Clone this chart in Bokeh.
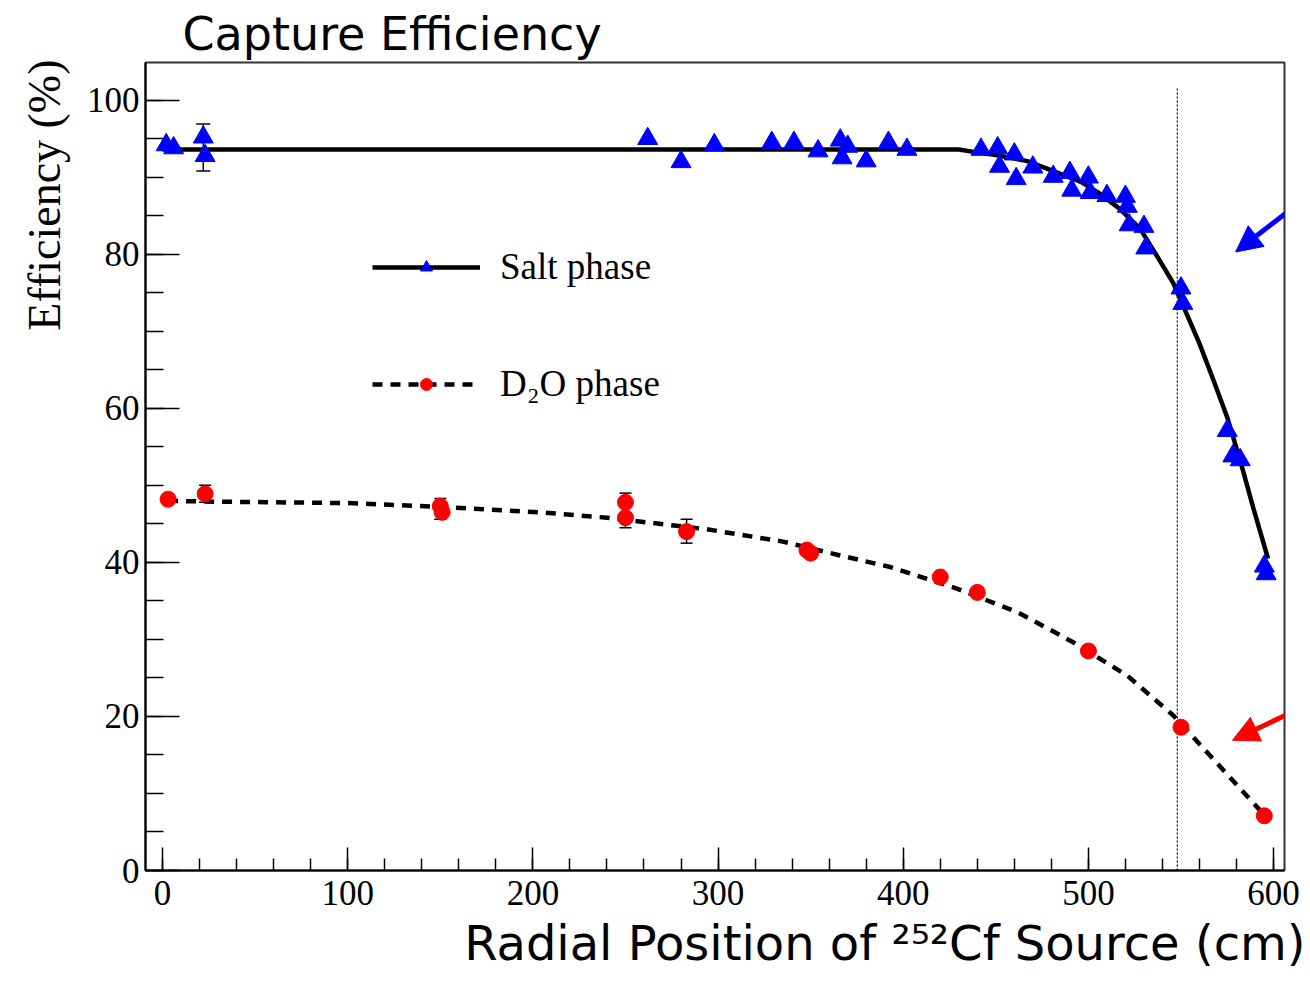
from bokeh.plotting import figure
from bokeh.models import (Range1d, Arrow, NormalHead, Legend, LegendItem, Title,
                          Whisker, TeeHead, ColumnDataSource, FixedTicker)
from bokeh.embed import file_html
from bokeh.resources import INLINE

# ---------------- data ----------------
salt_r = [2, 6, 22, 23, 262, 280, 298, 329, 341, 354, 366, 367, 370, 380, 392, 402,
          442, 451, 452, 460, 461, 470, 481, 490, 491, 500, 501, 510, 520, 521, 522,
          530, 531, 550, 551, 575, 578, 582, 595, 596]
salt_eff = [94.2, 93.8, 95.2, 92.8, 95.0, 92.0, 94.2, 94.5, 94.5, 93.4, 94.8, 92.5, 94.0,
            92.1, 94.5, 93.6, 93.6, 93.8, 91.4, 93.0, 89.8, 91.3, 90.1, 90.6, 88.3, 90.0,
            88.0, 87.6, 87.5, 86.2, 83.8, 83.6, 80.8, 75.6, 73.6, 57.1, 53.8, 53.3, 39.5, 38.5]

salt_fit_r = [0, 430, 438, 450, 467, 479, 496, 506, 517, 528, 537, 546, 553, 560, 567,
              575, 582, 589, 597]
salt_fit_eff = [93.6, 93.6, 93.3, 92.9, 92.1, 91.0, 89.4, 87.9, 85.9, 83.3, 79.8, 76.2,
                72.3, 68.4, 64.0, 58.8, 53.2, 47.1, 40.5]

salt_err_r = [22]
salt_err_lo = [90.8]
salt_err_hi = [96.9]

d2o_r = [3, 23, 150, 151, 250, 250, 283, 348, 350, 420, 440, 500, 550, 595]
d2o_eff = [48.2, 48.9, 47.3, 46.5, 47.8, 45.8, 44.0, 41.6, 41.2, 38.1, 36.1, 28.5, 18.6, 7.1]

d2o_fit_r = [3, 23, 100, 150, 204, 240, 294, 335, 366, 393, 429, 462, 492, 521, 546, 573, 595]
d2o_fit_eff = [48.0, 47.9, 47.7, 47.2, 46.5, 45.8, 44.3, 42.7, 40.9, 39.4, 36.6, 33.5,
               29.6, 25.3, 20.1, 13.0, 7.2]

d2o_err_r = [23, 150, 250, 283]
d2o_err_lo = [47.8, 45.6, 44.5, 42.5]
d2o_err_hi = [50.0, 48.3, 49.0, 45.6]

x_major = [0, 100, 200, 300, 400, 500, 600]
y_major = [0, 20, 40, 60, 80, 100]

boundary_r = 548
boundary_top = 101.7

title_text = "Capture Efficiency"
xlabel_text = "Radial Position of \u00b2\u2075\u00b2Cf Source (cm)"
ylabel_text = "Efficiency (%)"
salt_label = "Salt phase"
d2o_label = "D\u2082O phase"

# ---------------- figure ----------------
p = figure(width=1310, height=989, x_range=Range1d(-9.2, 605.9), y_range=Range1d(0, 104.9),
           output_backend="svg", toolbar_location=None,
           min_border_left=145, min_border_right=26, min_border_top=62, min_border_bottom=119)
p.background_fill_color = "white"
p.border_fill_color = "white"
p.outline_line_color = "#333333"
p.outline_line_width = 2
p.xgrid.visible = False
p.ygrid.visible = False

sans = "DejaVu Sans"
serif = "Liberation Serif"

# title
p.title.text = title_text
p.title.text_font = sans
p.title.text_font_size = "46px"
p.title.text_font_style = "normal"
p.title.text_color = "black"
p.title.align = "left"
p.title.offset = 37
p.title.standoff = 4

for ax in (p.xaxis[0], p.yaxis[0]):
    ax.axis_line_color = "black"
    ax.axis_line_width = 2
    ax.major_tick_out = 0
    ax.minor_tick_out = 0
    ax.major_tick_line_color = "black"
    ax.minor_tick_line_color = "black"
    ax.major_tick_line_width = 1.5
    ax.minor_tick_line_width = 1.5
    ax.major_label_text_font = serif
    ax.major_label_text_font_size = "35px"
    ax.major_label_text_color = "black"

p.xaxis[0].ticker = FixedTicker(ticks=x_major, minor_ticks=list(range(0, 601, 20)))
p.yaxis[0].ticker = FixedTicker(ticks=y_major, minor_ticks=list(range(0, 101, 5)))
p.xaxis[0].major_tick_in = 23
p.xaxis[0].minor_tick_in = 12
p.yaxis[0].major_tick_in = 34
p.yaxis[0].minor_tick_in = 18
p.xaxis[0].major_label_standoff = 10
p.yaxis[0].major_label_standoff = 6

# axis titles as side-panel titles (right / top aligned like ROOT)
p.add_layout(Title(text=xlabel_text, text_font=sans, text_font_size="48px",
                   text_font_style="normal", text_color="black",
                   align="right", offset=-21, standoff=10), "below")
p.add_layout(Title(text=ylabel_text, text_font=serif, text_font_size="46px",
                   text_font_style="normal", text_color="black",
                   align="right", offset=-3, standoff=28), "left")

# boundary line
p.segment(x0=[boundary_r], y0=[0], x1=[boundary_r], y1=[boundary_top],
          line_color="black", line_width=1.2, line_dash="2 2")

# fits
salt_line = p.line(salt_fit_r, salt_fit_eff, line_color="black", line_width=4.5)
d2o_line = p.line(d2o_fit_r, d2o_fit_eff, line_color="black", line_width=4.5, line_dash="10 8")

# error bars
p.add_layout(Whisker(source=ColumnDataSource(dict(r=salt_err_r, lo=salt_err_lo, hi=salt_err_hi)),
                     base="r", lower="lo", upper="hi", line_color="black", line_width=1.5,
                     upper_head=TeeHead(size=14, line_color="black", line_width=1.5),
                     lower_head=TeeHead(size=14, line_color="black", line_width=1.5)))
p.add_layout(Whisker(source=ColumnDataSource(dict(r=d2o_err_r, lo=d2o_err_lo, hi=d2o_err_hi)),
                     base="r", lower="lo", upper="hi", line_color="black", line_width=1.5,
                     upper_head=TeeHead(size=12, line_color="black", line_width=1.5),
                     lower_head=TeeHead(size=12, line_color="black", line_width=1.5)))

# points
salt_pts = p.scatter(salt_r, salt_eff, marker="triangle", size=20,
                     fill_color="#0000ff", line_color="#0000ff")
d2o_pts = p.scatter(d2o_r, d2o_eff, marker="circle", size=16,
                    fill_color="#ff0000", line_color="#ff0000")

# legend
legend = Legend(items=[LegendItem(label=salt_label, renderers=[salt_line, salt_pts]),
                       LegendItem(label=d2o_label, renderers=[d2o_line, d2o_pts])],
                location=(227, 465), glyph_width=108, glyph_height=30, label_height=30,
                spacing=74, label_standoff=20, padding=0, margin=0,
                border_line_color=None, background_fill_alpha=0,
                label_text_font=serif, label_text_font_size="37px", label_text_color="black")
p.add_layout(legend)

# arrows
p.add_layout(Arrow(x_start=621, y_start=88.0, x_end=579.5, y_end=80.3,
                   line_color="#0000ff", line_width=5,
                   end=NormalHead(size=26, fill_color="#0000ff", line_color="#0000ff")))
p.add_layout(Arrow(x_start=621, y_start=21.8, x_end=577.8, y_end=16.9,
                   line_color="#ff0000", line_width=5,
                   end=NormalHead(size=26, fill_color="#ff0000", line_color="#ff0000")))

open("out.html", "w").write(file_html(p, INLINE))
